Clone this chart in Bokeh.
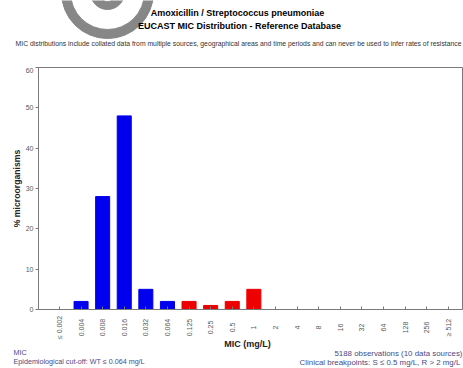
from math import pi

from bokeh.plotting import figure
from bokeh.layouts import column
from bokeh.models import ColumnDataSource, Range1d, FixedTicker
from bokeh.core.properties import value
from bokeh.embed import file_html
from bokeh.resources import INLINE

# MIC classes and percentage of isolates in each
mic_labels = ["≤ 0.002", "0.004", "0.008", "0.016", "0.032", "0.064", "0.125",
              "0.25", "0.5", "1", "2", "4", "8", "16", "32", "64", "128", "256", "≥ 512"]
percent = [0, 2, 28, 48, 5, 2, 2, 1, 2, 5, 0, 0, 0, 0, 0, 0, 0, 0, 0]
ecoff_index = 5  # 0.064 mg/L, last wild-type class
y_ticks = [0, 10, 20, 30, 40, 50, 60]

title_lines = ["Amoxicillin / Streptococcus pneumoniae",
               "EUCAST MIC Distribution - Reference Database"]
disclaimer = ("MIC distributions include collated data from multiple sources, geographical "
              "areas and time periods and can never be used to infer rates of resistance")
footer_left = ["MIC", "Epidemiological cut-off: WT ≤ 0.064 mg/L"]
footer_right = ["5188 observations (10 data sources)",
                "Clinical breakpoints: S ≤ 0.5 mg/L,  R > 2 mg/L"]

FONT_NAME = "Liberation Sans"
FONT = value(FONT_NAME)
AXIS_GREY = "#7a7a7a"
LABEL_GREY = "#5a5a5a"
NOTE_BLUE = "#4a4a86"
RING_GREY = "#878787"

W = 463
HEAD_H, MAIN_H, FOOT_H = 67, 248, 53
LEFT, RIGHT, BOTTOM = 38, 1, 6
X0, X1 = -0.97, 18.66


def bare(height, x_range, y_range):
    """A figure whose frame fills the whole canvas, used for text and decoration."""
    f = figure(width=W, height=height, output_backend="svg", toolbar_location=None,
               x_range=x_range, y_range=y_range, x_axis_location=None,
               y_axis_location=None, min_border=0, min_border_left=0,
               min_border_right=0, min_border_top=0, min_border_bottom=0)
    f.grid.visible = False
    f.outline_line_color = None
    f.background_fill_color = "white"
    f.border_fill_color = "white"
    return f


# ---- header: logo rings, titles and disclaimer (pixel coordinates, y down) ----
head = bare(HEAD_H, Range1d(0, W), Range1d(HEAD_H, 0))
head.annulus(x=[107, 107], y=[-8, -8], inner_radius=[37, 9], outer_radius=[46, 17],
             color=RING_GREY)
head.text(x=[237, 239], y=[12.5, 25.5], text=title_lines, text_align="center",
          text_baseline="middle", text_font=FONT, text_font_size="9px",
          text_font_style="bold", text_color="black")
head.text(x=[238], y=[43], text=[disclaimer], text_align="center",
          text_baseline="middle", text_font=FONT, text_font_size="6.8px",
          text_color="#333333")

# ---- main bar chart ----
idx = list(range(len(mic_labels)))
colors = ["#0000ee" if i <= ecoff_index else "#ee0000" for i in idx]
src = ColumnDataSource(dict(x=idx, top=percent, fill=colors))
label_src = ColumnDataSource(dict(x=idx, label=mic_labels))

p = figure(width=W, height=MAIN_H, output_backend="svg", toolbar_location=None,
           x_range=Range1d(X0, X1), y_range=Range1d(0, 60),
           min_border_left=LEFT, min_border_right=RIGHT,
           min_border_top=0, min_border_bottom=BOTTOM)
p.background_fill_color = "white"
p.border_fill_color = "white"
p.outline_line_color = AXIS_GREY
p.grid.visible = False

p.vbar(x="x", top="top", width=0.65, bottom=0, fill_color="fill", line_color="fill",
       source=src)

xa = p.xaxis[0]
xa.ticker = FixedTicker(ticks=idx)
xa.major_label_text_font_size = "1px"
xa.major_label_text_color = None
xa.major_label_standoff = 0
xa.major_tick_in = 3
xa.major_tick_out = 0
xa.minor_tick_line_color = None
xa.axis_line_color = AXIS_GREY
xa.major_tick_line_color = AXIS_GREY

ya = p.yaxis[0]
ya.ticker = FixedTicker(ticks=y_ticks)
ya.major_label_text_font = FONT_NAME
ya.major_label_text_font_size = "7px"
ya.major_label_text_color = LABEL_GREY
ya.major_tick_in = 0
ya.major_tick_out = 3
ya.major_label_standoff = 2
ya.minor_tick_line_color = None
ya.axis_line_color = AXIS_GREY
ya.major_tick_line_color = AXIS_GREY
ya.axis_label = "% microorganisms"
ya.axis_label_text_font = FONT_NAME
ya.axis_label_text_font_size = "8.7px"
ya.axis_label_text_font_style = "bold"
ya.axis_label_text_color = "#222222"
ya.axis_label_standoff = 1

# ---- footer: rotated MIC class labels, axis title and notes ----
# x range chosen so the class positions line up with the bar chart's frame
per_px = (X1 - X0) / (W - LEFT - RIGHT)
foot = bare(FOOT_H, Range1d(X0 - LEFT * per_px, X1 + RIGHT * per_px),
            Range1d(FOOT_H, 0))
foot.extra_x_ranges = {"px": Range1d(0, W)}

foot.text(x="x", y=12, text="label", source=label_src, angle=pi / 2,
          text_align="center", text_baseline="middle", text_font=FONT,
          text_font_size="7px", text_color=LABEL_GREY)
foot.text(x=[247], y=[28], text=["MIC (mg/L)"], x_range_name="px",
          text_align="center", text_baseline="middle", text_font=FONT,
          text_font_size="9px", text_font_style="bold", text_color="#222222")
foot.text(x=[13, 13], y=[37, 46], text=footer_left, x_range_name="px",
          text_align="left", text_baseline="middle", text_font=FONT,
          text_font_size="7.2px", text_color=NOTE_BLUE)
foot.text(x=[462, 462], y=[38, 46.5], text=footer_right, x_range_name="px",
          text_align="right", text_baseline="middle", text_font=FONT,
          text_font_size="7.9px", text_color=NOTE_BLUE)

# each strip sits in its own box so its frame keeps the full page width
layout = column(column(head), p, column(foot), spacing=0)
open("out.html", "w").write(file_html(layout, INLINE))
